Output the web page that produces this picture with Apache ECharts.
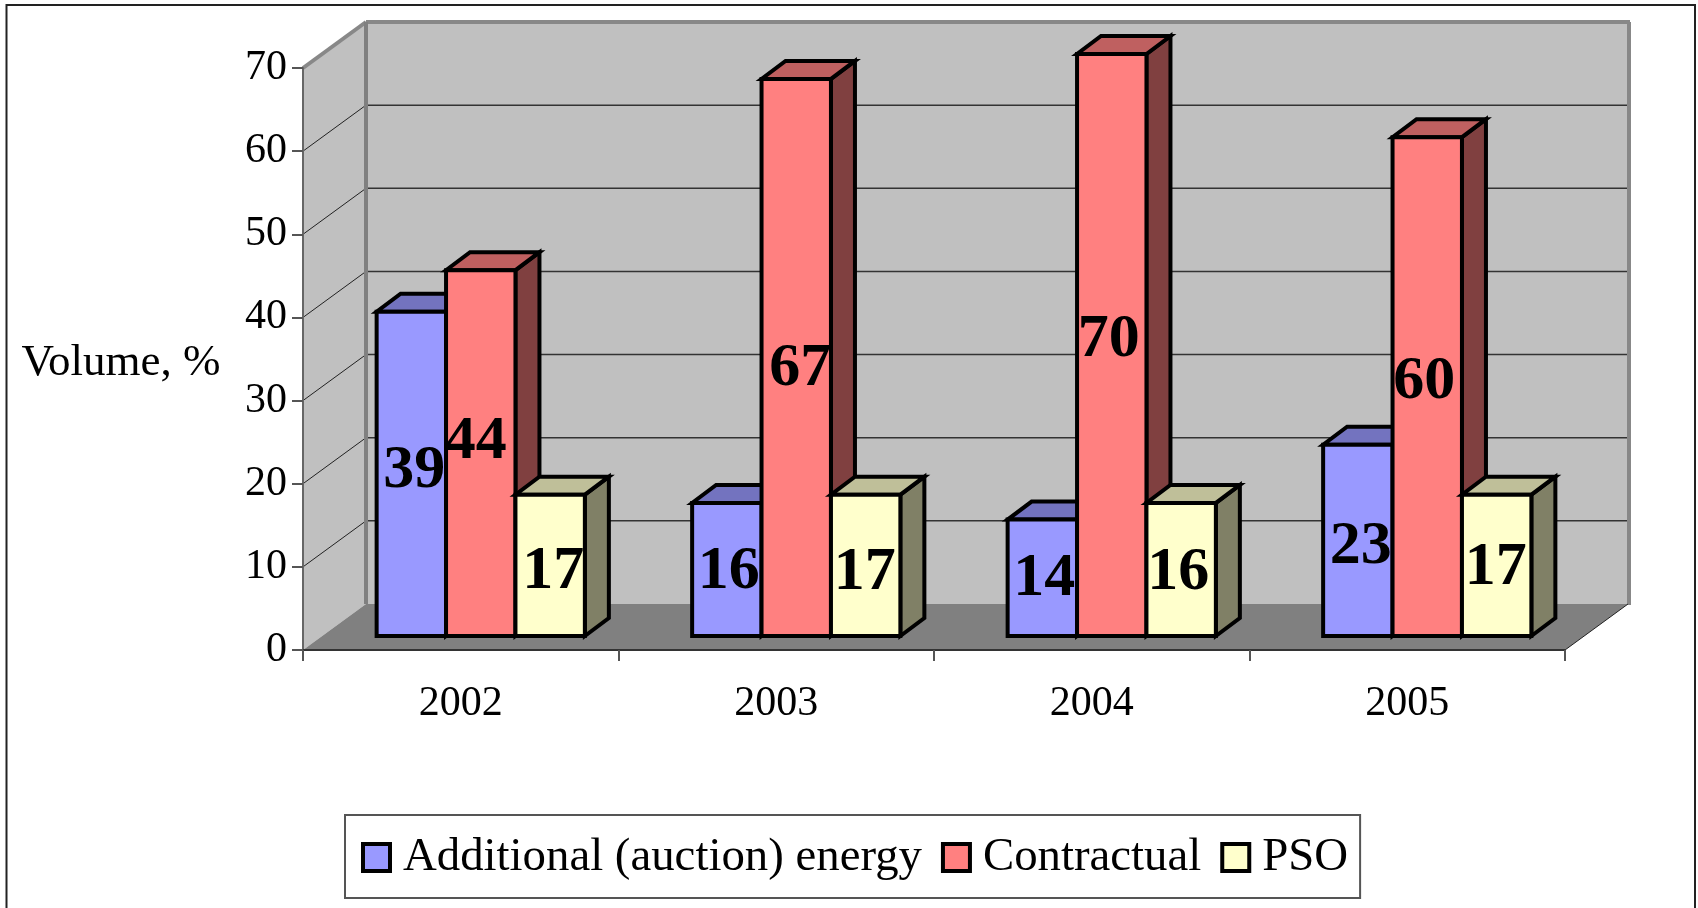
<!doctype html>
<html lang="en">
<head>
<meta charset="UTF-8">
<title>Volume by contract type</title>
<script src="https://cdn.jsdelivr.net/npm/echarts@6/dist/echarts.min.js"></script>
<style>
    html, body { margin: 0; padding: 0; background: #fff; }
    #main { width: 1698px; height: 908px; }
</style>
</head>
<body>
<div id="main"></div>
<script type="text/javascript">
    // chart values
    var years = ['2002', '2003', '2004', '2005'];
    var additional = [39, 16, 14, 23];
    var contractual = [44, 67, 70, 60];
    var pso = [17, 17, 16, 17];
    var gridValues = [10, 20, 30, 40, 50, 60, 70];

    var font = '"Liberation Serif", "Times New Roman", serif';

    // depth of the walls and of the columns, in px
    var wallDepth = [63, -46];
    var barDepth = [24, -18];

    // label offsets from the middle of each column face, [dx, dy] per year
    var labelShift = [
        [[3, -3], [2, 2], [2, 1], [3, 7]],
        [[-5, -11], [4, 12], [-3, -5], [-3, -5]],
        [[3, 7], [-1, 8], [-3, 3], [-1, 3]]
    ];

    function poly(points, fill, stroke, width) {
        return {
            type: 'polygon',
            shape: { points: points },
            style: { fill: fill, stroke: stroke, lineWidth: width, lineJoin: 'miter' }
        };
    }

    function line(a, b, color, width) {
        return {
            type: 'line',
            shape: { x1: a[0], y1: a[1], x2: b[0], y2: b[1] },
            style: { stroke: color, lineWidth: width }
        };
    }

    // walls, floor and gridlines hang off the front axes
    function renderWalls(params, api) {
        var c = params.coordSys;
        var dx = wallDepth[0], dy = wallDepth[1];
        var x0 = c.x, x1 = c.x + c.width;
        var y0 = api.coord([0, 0])[1], yTop = api.coord([0, 70])[1];
        var children = [
            poly([[x0 + dx, y0 + dy], [x1 + dx, y0 + dy], [x1 + dx, yTop + dy], [x0 + dx, yTop + dy]], '#c0c0c0'),
            poly([[x0, y0], [x0 + dx, y0 + dy], [x0 + dx, yTop + dy], [x0, yTop]], '#c0c0c0'),
            poly([[x0, y0], [x1, y0], [x1 + dx, y0 + dy], [x0 + dx, y0 + dy]], '#808080')
        ];
        gridValues.forEach(function (v) {
            var y = api.coord([0, v])[1];
            if (v < 70) {
                children.push(line([x0 + dx, y + dy], [x1 + dx, y + dy], '#333', 1.5));
            }
            children.push(line([x0, y], [x0 + dx, y + dy], v < 70 ? '#222' : '#888', v < 70 ? 1 : 4));
        });
        children.push(line([x0 + dx, yTop + dy], [x1 + dx + 2, yTop + dy], '#888', 4));
        children.push(line([x0 + dx, yTop + dy], [x0 + dx, y0 + dy], '#808080', 4));
        children.push(line([x1 + dx + 1, yTop + dy], [x1 + dx + 1, y0 + dy + 1], '#888', 4));
        children.push(line([x1, y0], [x1 + dx, y0 + dy], '#222', 1));
        return { type: 'group', children: children };
    }

    function barSeries(name, values, index, front, top, side) {
        return {
            name: name,
            type: 'custom',
            xAxisIndex: 1,
            yAxisIndex: 1,
            z: 3,
            clip: false,
            silent: true,
            itemStyle: { color: front },
            data: values.map(function (v, i) { return [i, v]; }),
            renderItem: function (params, api) {
                var i = api.value(0), v = api.value(1);
                var band = api.size([1, 0])[0];
                var w = band * 0.22;
                var center = api.coord([i, v]);
                var base = api.coord([i, 0])[1];
                var l = center[0] + (index - 1.5) * w, r = l + w, t = center[1];
                var dx = barDepth[0], dy = barDepth[1];
                var shift = labelShift[index][i];
                return {
                    type: 'group',
                    children: [
                        poly([[r, base], [r + dx, base + dy], [r + dx, t + dy], [r, t]], side, '#000', 4),
                        poly([[l, t], [r, t], [r + dx, t + dy], [l + dx, t + dy]], top, '#000', 4),
                        poly([[l, base], [r, base], [r, t], [l, t]], front, '#000', 4),
                        {
                            type: 'text',
                            z2: 100,
                            style: {
                                text: String(v),
                                x: l + w / 2 + shift[0],
                                y: (t + base) / 2 + shift[1],
                                align: 'center',
                                verticalAlign: 'middle',
                                font: 'bold 62px ' + font,
                                fill: '#000'
                            }
                        }
                    ]
                };
            }
        };
    }

    var chart = echarts.init(document.getElementById('main'));

    var option = {
        animation: false,
        backgroundColor: '#fff',
        textStyle: { fontFamily: font },
        grid: [
            { left: 303, top: 68, width: 1262, height: 582, outerBoundsMode: 'none' },
            { left: 323, top: 54, width: 1262, height: 582, outerBoundsMode: 'none' }
        ],
        xAxis: [
            {
                type: 'category',
                gridIndex: 0,
                z: 4,
                data: years,
                axisLine: { show: true, lineStyle: { color: '#333', width: 2 } },
                axisTick: { show: true, inside: false, alignWithLabel: false, length: 11, lineStyle: { color: '#555', width: 2 } },
                axisLabel: { margin: 33, color: '#000', fontSize: 42, fontFamily: font }
            },
            { type: 'category', gridIndex: 1, data: years, show: false }
        ],
        yAxis: [
            {
                type: 'value',
                gridIndex: 0,
                z: 4,
                min: 0,
                max: 70,
                interval: 10,
                splitLine: { show: false },
                axisLine: { show: true, lineStyle: { color: '#666', width: 2 } },
                axisTick: { show: true, inside: false, length: 11, lineStyle: { color: '#555', width: 2 } },
                axisLabel: { margin: 16, color: '#000', fontSize: 42, fontFamily: font, padding: [5, 0, 0, 0] }
            },
            { type: 'value', gridIndex: 1, min: 0, max: 70, interval: 10, show: false }
        ],
        legend: {
            left: 345,
            top: 815,
            padding: [19, 12, 17, 16],
            itemGap: 19,
            itemWidth: 27,
            itemHeight: 27,
            icon: 'rect',
            data: ['Additional (auction) energy', 'Contractual', 'PSO'],
            borderColor: '#555',
            borderWidth: 2,
            backgroundColor: '#fff',
            itemStyle: { borderColor: '#000', borderWidth: 4 },
            selectedMode: false,
            textStyle: { color: '#000', fontSize: 46.8, fontFamily: font, padding: [0, 0, 0, 8] }
        },
        graphic: [
            {
                type: 'polyline',
                silent: true,
                shape: { points: [[6.5, 908], [6.5, 5], [1695, 5], [1695, 908]] },
                style: { fill: 'none', stroke: '#222', lineWidth: 2 }
            },
            {
                type: 'text',
                silent: true,
                x: 121,
                y: 363,
                style: {
                    text: 'Volume, %',
                    align: 'center',
                    verticalAlign: 'middle',
                    font: '45px ' + font,
                    fill: '#000'
                }
            }
        ],
        series: [
            {
                type: 'custom',
                name: 'walls',
                z: 0,
                clip: false,
                silent: true,
                data: [[0, 0]],
                renderItem: renderWalls
            },
            barSeries('Additional (auction) energy', additional, 0, '#9999ff', '#7373bf', '#4d4d80'),
            barSeries('Contractual', contractual, 1, '#ff8080', '#bf6060', '#804040'),
            barSeries('PSO', pso, 2, '#ffffcc', '#bfbf99', '#808066')
        ]
    };

    chart.setOption(option);
</script>
</body>
</html>
